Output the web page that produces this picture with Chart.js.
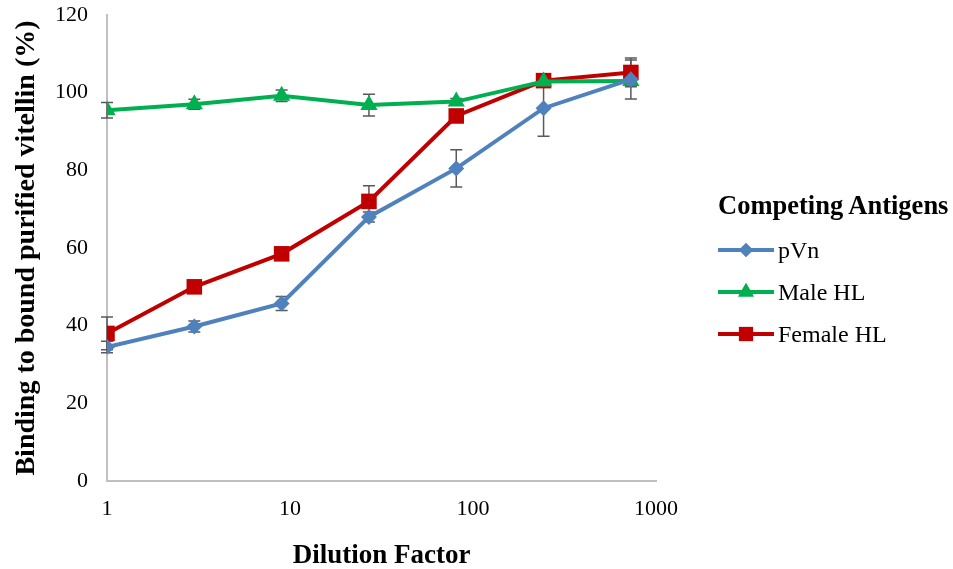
<!DOCTYPE html>
<html lang="en">
<head>
    <meta charset="UTF-8">
    <title>Dilution Factor</title>
    <script src="https://cdn.jsdelivr.net/npm/chart.js"></script>
    <style>
        body {
            margin: 0;
            font-family: "Liberation Serif", "Times New Roman", serif;
            background: #fff;
        }
        #wrap {
            position: relative;
            width: 953px;
            height: 569px;
        }
        #legend {
            position: absolute;
            left: 718px;
            top: 190px;
            color: #000;
        }
        #legend .title {
            font-weight: bold;
            font-size: 26.5px;
            margin-bottom: 8px;
        }
        #legend .item {
            display: flex;
            align-items: center;
            font-size: 24px;
            height: 42px;
        }
        #legend canvas {
            margin-right: 4px;
        }
    </style>
</head>
<body>
<div id="wrap">
    <canvas id="chart" width="953" height="569"></canvas>
    <div id="legend"></div>
</div>

<script>
    // dilution factors (log axis)
    const dilutions = [1, 3, 9, 27, 81, 243, 729];
    const xTicks = [1, 10, 100, 1000];

    const seriesNames = ['pVn', 'Male HL', 'Female HL'];
    const pvn = [34.5, 39.8, 45.7, 68.0, 80.5, 96.0, 103.4];
    const maleHL = [95.5, 97.0, 99.2, 96.8, 97.7, 102.9, 103.0];
    const femaleHL = [38.0, 50.0, 58.5, 72.0, 94.0, 103.1, 105.2];

    // error bar half widths
    const pvnErr = [1.5, 1.4, 1.8, 1.3, 4.8, 7.2, 5.0];
    const maleErr = [2.0, 1.3, 1.5, 2.8, 0.8, 0.8, 0.8];
    const femaleErr = [4.2, 0.8, 0.8, 4.0, 0.8, 0.8, 3.7];

    const colors = ['#4f81bd', '#00b050', '#c00000'];
    const markers = ['rectRot', 'triangle', 'rect'];
    const markerSize = [8, 10, 11];

    const toPoints = vals => vals.map((v, i) => ({ x: dilutions[i], y: v }));

    const datasets = [pvn, maleHL, femaleHL].map((vals, i) => ({
        label: seriesNames[i],
        data: toPoints(vals),
        borderColor: colors[i],
        backgroundColor: colors[i],
        borderWidth: 4,
        pointStyle: markers[i],
        pointRadius: markerSize[i],
        pointHoverRadius: markerSize[i],
        pointBorderWidth: 0,
        tension: 0,
        errors: [pvnErr, maleErr, femaleErr][i]
    }));

    // draw error bars under the lines
    const errorBars = {
        id: 'errorBars',
        beforeDatasetsDraw(chart) {
            const ctx = chart.ctx;
            const xs = chart.scales.x, ys = chart.scales.y;
            ctx.save();
            ctx.strokeStyle = '#595959';
            ctx.lineWidth = 1.5;
            chart.data.datasets.forEach(ds => {
                ds.data.forEach((p, i) => {
                    const e = ds.errors[i];
                    const px = xs.getPixelForValue(p.x);
                    const top = ys.getPixelForValue(p.y + e);
                    const bot = ys.getPixelForValue(p.y - e);
                    ctx.beginPath();
                    ctx.moveTo(px, top); ctx.lineTo(px, bot);
                    ctx.moveTo(px - 6, top); ctx.lineTo(px + 6, top);
                    ctx.moveTo(px - 6, bot); ctx.lineTo(px + 6, bot);
                    ctx.stroke();
                });
            });
            ctx.restore();
        }
    };

    const ctx = document.getElementById('chart').getContext('2d');
    const chart = new Chart(ctx, {
        type: 'line',
        data: { datasets },
        plugins: [errorBars],
        options: {
            responsive: false,
            animation: false,
            layout: { padding: { top: 0, right: 297, left: 0, bottom: 0 } },
            plugins: { legend: { display: false }, tooltip: { enabled: false } },
            scales: {
                x: {
                    type: 'logarithmic',
                    min: 1,
                    max: 1000,
                    afterBuildTicks: s => { s.ticks = xTicks.map(v => ({ value: v })); },
                    afterFit: s => { s.height = 88; },
                    ticks: {
                        color: '#000',
                        font: { family: 'Liberation Serif', size: 22 },
                        padding: 15,
                        maxRotation: 0,
                        callback: v => String(v)
                    },
                    grid: { display: false, drawTicks: false },
                    border: { color: '#bfbfbf', width: 2 },
                    title: {
                        display: true,
                        text: 'Dilution Factor',
                        color: '#000',
                        font: { family: 'Liberation Serif', size: 27, weight: 'bold' },
                        padding: { top: 0, bottom: -3 }
                    }
                },
                y: {
                    min: 0,
                    max: 120,
                    afterFit: s => { s.width = 107; s.paddingTop = 15; },
                    ticks: {
                        stepSize: 20,
                        color: '#000',
                        font: { family: 'Liberation Serif', size: 22 },
                        padding: 19
                    },
                    grid: { display: false, drawTicks: false },
                    border: { color: '#bfbfbf', width: 2 },
                    title: {
                        display: true,
                        text: 'Binding to bound purified vitellin (%)',
                        color: '#000',
                        font: { family: 'Liberation Serif', size: 28, weight: 'bold' },
                        padding: { top: 10, bottom: 0 }
                    }
                }
            }
        }
    });

    // legend with line + marker swatches
    const legend = document.getElementById('legend');
    const title = document.createElement('div');
    title.className = 'title';
    title.textContent = 'Competing Antigens';
    legend.appendChild(title);
    seriesNames.forEach((name, i) => {
        const item = document.createElement('div');
        item.className = 'item';
        const sw = document.createElement('canvas');
        sw.width = 56; sw.height = 22;
        const c = sw.getContext('2d');
        c.strokeStyle = colors[i];
        c.lineWidth = 4;
        c.beginPath(); c.moveTo(0, 11); c.lineTo(56, 11); c.stroke();
        c.fillStyle = colors[i];
        Chart.helpers.drawPoint(c, { pointStyle: markers[i], radius: markerSize[i] - 1, rotation: 0, borderWidth: 0 }, 28, 11);
        c.fill();
        item.appendChild(sw);
        const t = document.createElement('span');
        t.textContent = name;
        item.appendChild(t);
        legend.appendChild(item);
    });
</script>
</body>
</html>
